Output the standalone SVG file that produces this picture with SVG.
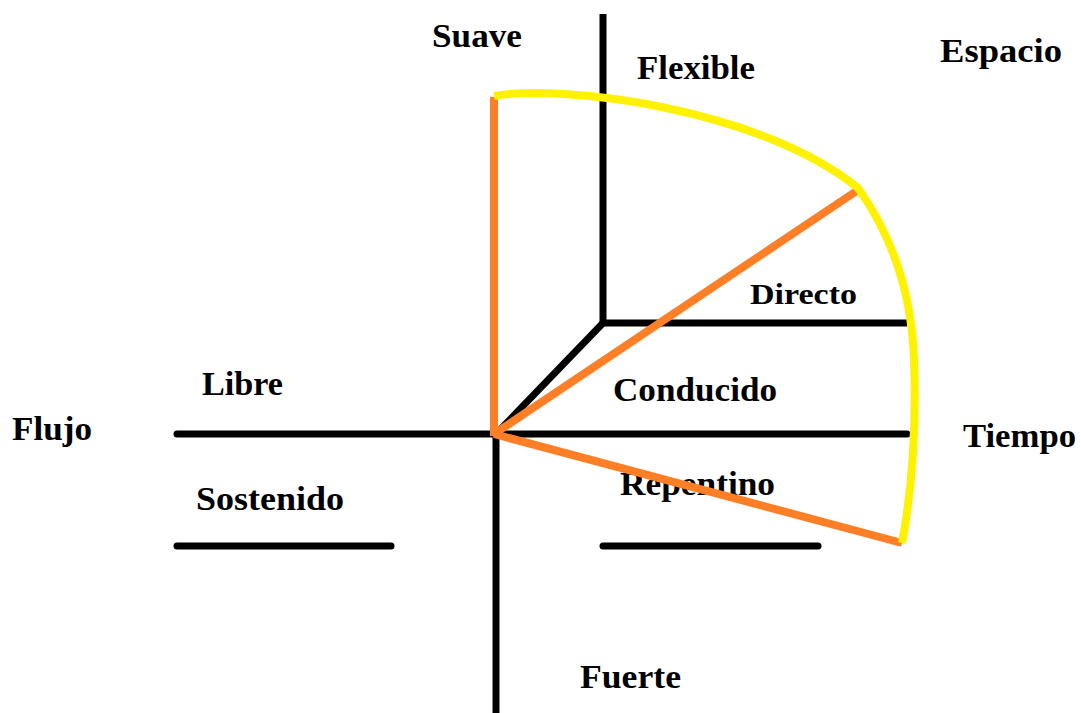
<svg xmlns="http://www.w3.org/2000/svg" width="1081" height="713" viewBox="0 0 1081 713">
<style>
.t{font-family:"Liberation Serif","Times New Roman",serif;font-weight:bold;font-size:33px;fill:#000}
.k{stroke:#000;stroke-width:7;stroke-linecap:round;fill:none}
.o{stroke:#FF7F27;stroke-width:8;stroke-linecap:butt;fill:none}
.y{stroke:#FFF200;stroke-width:8;fill:none;stroke-linejoin:round}
</style>
<rect width="1081" height="713" fill="#fff"/>
<g id="connectors">
<line class="k" x1="603" y1="14" x2="603" y2="323" style="stroke-linecap:butt"/>
<line class="k" x1="603" y1="323" x2="907" y2="323" style="stroke-linecap:butt"/>
<line class="k" x1="603" y1="323" x2="496" y2="434"/>
<line class="k" x1="177" y1="434" x2="907" y2="434"/>
<line class="k" x1="496" y1="434" x2="496" y2="713" style="stroke-linecap:butt"/>
<line class="k" x1="177" y1="546" x2="391" y2="546"/>
<line class="k" x1="603" y1="546" x2="818" y2="546"/>
</g>
<g id="labels">
<g id="n-suave"><text class="t" x="432" y="47" textLength="90" lengthAdjust="spacingAndGlyphs">Suave</text></g>
<g id="n-flexible"><text class="t" x="637" y="79" textLength="118" lengthAdjust="spacingAndGlyphs">Flexible</text></g>
<g id="n-espacio"><text class="t" x="940" y="62" textLength="122" lengthAdjust="spacingAndGlyphs">Espacio</text></g>
<g id="n-directo"><text class="t" x="750" y="304" textLength="107" lengthAdjust="spacingAndGlyphs" style="font-size:29px">Directo</text></g>
<g id="n-libre"><text class="t" x="202" y="395" textLength="81" lengthAdjust="spacingAndGlyphs">Libre</text></g>
<g id="n-conducido"><text class="t" x="613" y="401" textLength="164" lengthAdjust="spacingAndGlyphs">Conducido</text></g>
<g id="n-flujo"><text class="t" x="12" y="440" textLength="80" lengthAdjust="spacingAndGlyphs">Flujo</text></g>
<g id="n-tiempo"><text class="t" x="963" y="447" textLength="113" lengthAdjust="spacingAndGlyphs">Tiempo</text></g>
<g id="n-sostenido"><text class="t" x="196" y="510" textLength="148" lengthAdjust="spacingAndGlyphs">Sostenido</text></g>
<g id="n-repentino"><text class="t" x="620" y="495" textLength="155" lengthAdjust="spacingAndGlyphs">Repentino</text></g>
<g id="n-fuerte"><text class="t" x="580" y="688" textLength="101" lengthAdjust="spacingAndGlyphs">Fuerte</text></g>
</g>
<g id="sector">
<line class="o" x1="494" y1="97" x2="494" y2="436"/>
<line class="o" x1="494" y1="434" x2="858" y2="190"/>
<line class="o" x1="494" y1="434" x2="902" y2="543"/>
<path class="y" d="M494,96 C560,84 760,108 858,188 C895,240 912,300 914,360 C917,440 910,500 902,543"/>
</g>
</svg>
